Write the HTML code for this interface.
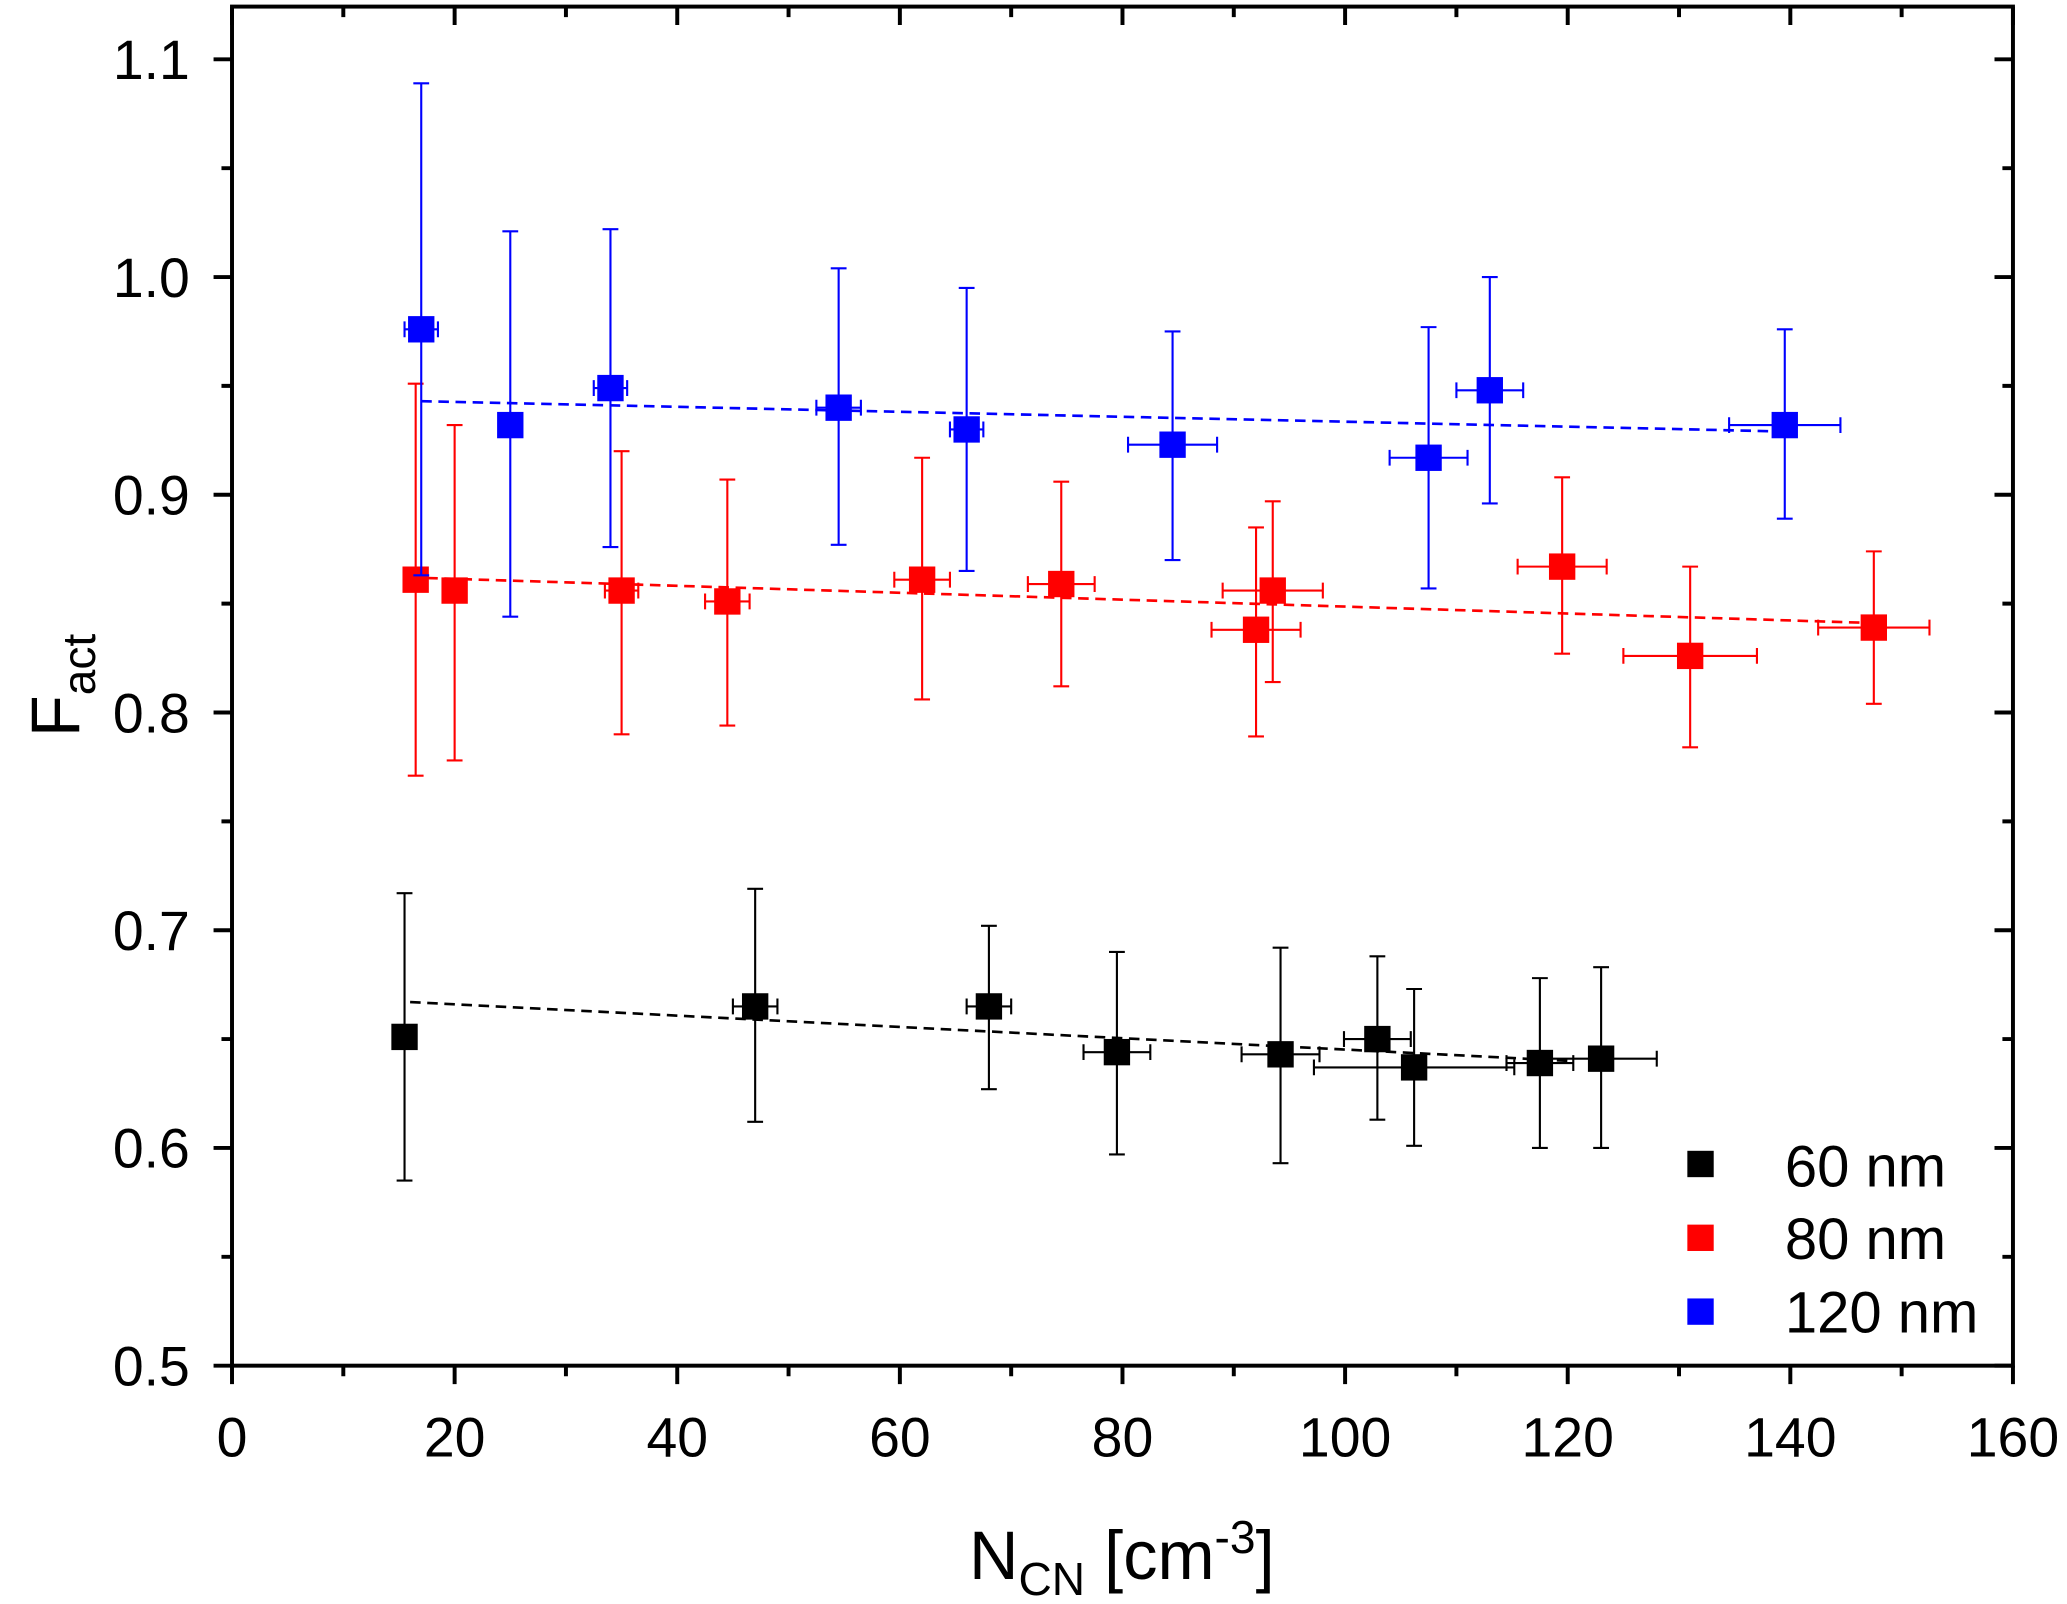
<!DOCTYPE html>
<html><head><meta charset="utf-8"><style>html,body{margin:0;padding:0;background:#fff}svg{display:block}</style></head>
<body>
<svg id="chart" width="2067" height="1604" viewBox="0 0 1568 1216.8" preserveAspectRatio="none" xmlns="http://www.w3.org/2000/svg" font-family="Liberation Sans, Arial, sans-serif"></svg>
<script>
const xTicks=[0,20,40,60,80,100,120,140,160];
const yTicks=[0.5,0.6,0.7,0.8,0.9,1.0,1.1];
const yTickLabels=["0.5","0.6","0.7","0.8","0.9","1.0","1.1"];
// 60 nm
const x60=[15.5,47,68,79.5,94.2,102.9,106.2,117.5,123];
const y60=[0.651,0.665,0.665,0.644,0.643,0.650,0.637,0.639,0.641];
const lo60=[0.585,0.612,0.627,0.597,0.593,0.613,0.601,0.600,0.600];
const hi60=[0.717,0.719,0.702,0.690,0.692,0.688,0.673,0.678,0.683];
const xe60=[1,2,2,3,3.5,3,9,3,5];
const fit60x=[16,120], fit60y=[0.667,0.640];
// 80 nm
const x80=[16.5,20,35,44.5,62,74.5,92,93.5,119.5,131,147.5];
const y80=[0.861,0.856,0.856,0.851,0.861,0.859,0.838,0.856,0.867,0.826,0.839];
const lo80=[0.771,0.778,0.790,0.794,0.806,0.812,0.789,0.814,0.827,0.784,0.804];
const hi80=[0.951,0.932,0.920,0.907,0.917,0.906,0.885,0.897,0.908,0.867,0.874];
const xe80=[1,0.5,1.5,2,2.5,3,4,4.5,4,6,5];
const fit80x=[16,148], fit80y=[0.862,0.841];
// 120 nm
const x120=[17,25,34,54.5,66,84.5,107.5,113,139.5];
const y120=[0.976,0.932,0.949,0.940,0.930,0.923,0.917,0.948,0.932];
const lo120=[0.863,0.844,0.876,0.877,0.865,0.870,0.857,0.896,0.889];
const hi120=[1.089,1.021,1.022,1.004,0.995,0.975,0.977,1.000,0.976];
const xe120=[1.5,0.5,1.5,2,1.5,4,3.5,3,5];
const fit120x=[17,140], fit120y=[0.943,0.929];

const L=176,R=1527,T=5,B=1036;
const sx=v=>L+(v-0)/160*(R-L);
const sy=v=>B-(v-0.5)/0.6*(B-45);
const svg=document.getElementById('chart');
const NS='http://www.w3.org/2000/svg';
function mk(tag,attrs,parent){const e=document.createElementNS(NS,tag);for(const k in attrs)e.setAttribute(k,attrs[k]);(parent||svg).appendChild(e);return e;}

const series=[
 {n:'60nm',c:'#000',x:x60,y:y60,lo:lo60,hi:hi60,xe:xe60,fx:fit60x,fy:fit60y},
 {n:'80nm',c:'#f00',x:x80,y:y80,lo:lo80,hi:hi80,xe:xe80,fx:fit80x,fy:fit80y},
 {n:'120nm',c:'#00f',x:x120,y:y120,lo:lo120,hi:hi120,xe:xe120,fx:fit120x,fy:fit120y}];
series.forEach(s=>{
  const g=mk('g',{});
  
  
  const fl=mk('line',{x1:sx(s.fx[0]),y1:sy(s.fy[0]),x2:sx(s.fx[1]),y2:sy(s.fy[1]),stroke:s.c,'stroke-width':2,'stroke-dasharray':'8,5'},g);
  
  
  s.x.forEach((xv,i)=>{
    const X=sx(xv),Y=sy(s.y[i]),y1=sy(s.lo[i]),y2=sy(s.hi[i]),xa=sx(xv-s.xe[i]),xb=sx(xv+s.xe[i]);
    const eb=mk('path',{d:`M${X},${y1}V${y2}M${X-6},${y1}H${X+6}M${X-6},${y2}H${X+6}M${xa},${Y}H${xb}M${xa},${Y-6}V${Y+6}M${xb},${Y-6}V${Y+6}`,stroke:s.c,'stroke-width':1.6,fill:'none'},g);
    
    
    const p=mk('rect',{x:X-10,y:Y-10,width:20,height:20,fill:s.c},g);
    
    
  });
});

const fr=mk('rect',{x:L,y:T,width:R-L,height:B-T,fill:'none',stroke:'#000','stroke-width':3});


let d='';
for(let v=0;v<=160;v+=10){const X=sx(v);const major=v%20===0;d+=`M${X},${B}V${B+(major?14:8)}M${X},${T}V${T+(major?14:8)}`;}
for(let k=0;k<=12;k++){const v=0.5+k*0.05;const Y=sy(v);const major=k%2===0;d+=`M${L},${Y}H${L-(major?14:8)}M${R},${Y}H${R-(major?14:8)}`;}
const tk=mk('path',{d:d,stroke:'#000','stroke-width':3,fill:'none'});


xTicks.forEach(v=>{const t=mk('text',{x:sx(v),y:1105,'font-size':42,'text-anchor':'middle'});t.textContent=v;

});
yTicks.forEach((v,i)=>{const t=mk('text',{x:144,y:sy(v)+15,'font-size':42,'text-anchor':'end'});t.textContent=yTickLabels[i];

});
</script>
<svg style="position:absolute;left:0;top:0" width="2067" height="1604" viewBox="0 0 1568 1216.8" preserveAspectRatio="none" xmlns="http://www.w3.org/2000/svg" font-family="Liberation Sans, Arial, sans-serif">
 <text x="851" y="1198" font-size="52" text-anchor="middle">N<tspan font-size="35" dy="12">CN</tspan><tspan dy="-12"> [cm</tspan><tspan font-size="35" dy="-20">-3</tspan><tspan dy="20">]</tspan></text>
 <text transform="translate(60,520) rotate(-90)" font-size="52" text-anchor="middle">F<tspan font-size="35" dy="12">act</tspan></text>
 <g>
  <rect x="1280" y="873" width="20" height="20" fill="#000"/>
  <text x="1354" y="900" font-size="44">60 nm</text>
  <rect x="1280" y="929" width="20" height="20" fill="#f00"/>
  <text x="1354" y="955" font-size="44">80 nm</text>
  <rect x="1280" y="985" width="20" height="20" fill="#00f"/>
  <text x="1354" y="1011" font-size="44">120 nm</text>
 </g>
</svg>
</body></html>
